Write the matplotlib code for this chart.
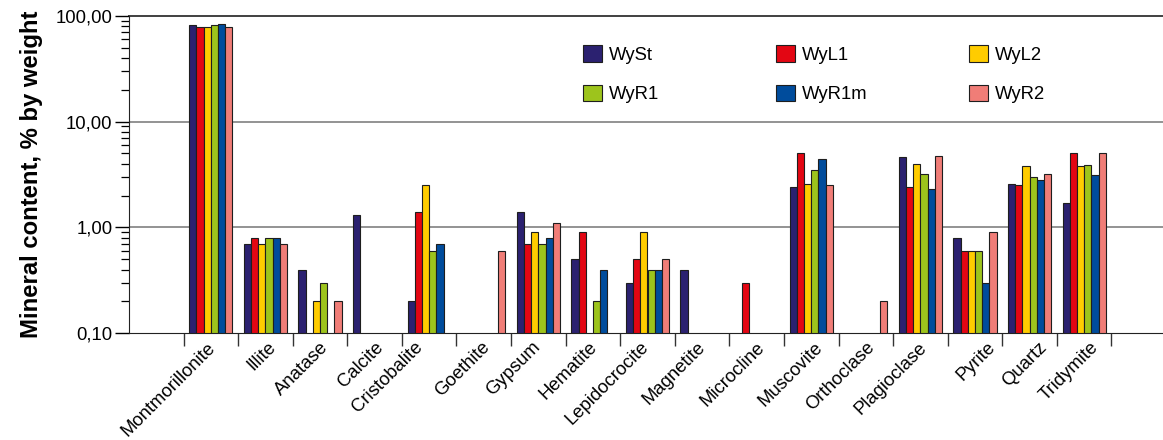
import numpy as np
import matplotlib.pyplot as plt
from matplotlib.ticker import FixedLocator, NullFormatter, LogLocator
from matplotlib.transforms import ScaledTranslation

nan = np.nan

minerals = ['Montmorillonite', 'Illite', 'Anatase', 'Calcite', 'Cristobalite',
            'Goethite', 'Gypsum', 'Hematite', 'Lepidocrocite', 'Magnetite',
            'Microcline', 'Muscovite', 'Orthoclase', 'Plagioclase', 'Pyrite',
            'Quartz', 'Tridymite']

samples = ['WySt', 'WyL1', 'WyL2', 'WyR1', 'WyR1m', 'WyR2']
colors = ['#2b2170', '#e30613', '#ffcc00', '#9dc41c', '#004c9c', '#f07d77']

WySt  = [81, 0.7, 0.4, 1.3, 0.2, nan, 1.4, 0.5, 0.3, 0.4, nan, 2.4, nan, 4.6, 0.8, 2.6, 1.7]
WyL1  = [78, 0.8, nan, nan, 1.4, nan, 0.7, 0.9, 0.5, nan, 0.3, 5.0, nan, 2.4, 0.6, 2.5, 5.0]
WyL2  = [79, 0.7, 0.2, nan, 2.5, nan, 0.9, nan, 0.9, nan, nan, 2.6, nan, 4.0, 0.6, 3.8, 3.8]
WyR1  = [82, 0.8, 0.3, nan, 0.6, nan, 0.7, 0.2, 0.4, nan, nan, 3.5, nan, 3.2, 0.6, 3.0, 3.9]
WyR1m = [84, 0.8, nan, nan, 0.7, nan, 0.8, 0.4, 0.4, nan, nan, 4.4, nan, 2.3, 0.3, 2.8, 3.1]
WyR2  = [79, 0.7, 0.2, nan, nan, 0.6, 1.1, nan, 0.5, nan, nan, 2.5, 0.2, 4.7, 0.9, 3.2, 5.1]

series = [WySt, WyL1, WyL2, WyR1, WyR1m, WyR2]

ytick_vals = [0.1, 1, 10, 100]
ytick_labels = ['0,10', '1,00', '10,00', '100,00']

plt.rcParams['font.family'] = ['Liberation Sans', 'DejaVu Sans']
plt.rcParams['font.size'] = 13.3

fig = plt.figure(figsize=(11.63, 4.4), dpi=100)
ax = fig.add_axes([129 / 1163, 1 - 333.3 / 440, 1037 / 1163, (333.3 - 15.7) / 440])

n_slots = len(minerals) + 2
centers = np.arange(len(minerals)) + 1.5
w = 0.132
handles = []
for j, (name, vals) in enumerate(zip(samples, series)):
    v = np.array(vals, dtype=float)
    ok = ~np.isnan(v)
    b = ax.bar(centers[ok] + (j - 2.5) * w, v[ok] - 0.1, bottom=0.1, width=w,
               color=colors[j], edgecolor='#1e1e1e', linewidth=0.8, label=name, zorder=3)
    handles.append(b)

ax.set_yscale('log')
ax.set_ylim(0.1, 100)
ax.set_xlim(0, n_slots)

ax.set_yticks(ytick_vals)
ax.set_yticklabels(ytick_labels)
ax.yaxis.set_minor_locator(LogLocator(base=10, subs=np.arange(2, 10)))
ax.yaxis.set_minor_formatter(NullFormatter())
ax.tick_params(axis='y', which='major', direction='out', length=10, width=1, pad=2)
ax.tick_params(axis='y', which='minor', direction='out', length=6, width=0.9)

ax.xaxis.set_major_locator(FixedLocator(np.arange(1, len(minerals) + 2)))
ax.xaxis.set_major_formatter(NullFormatter())
ax.xaxis.set_minor_locator(FixedLocator(centers))
ax.set_xticklabels(minerals, minor=True, rotation=45, ha='right', va='top',
                   rotation_mode='anchor')
ax.tick_params(axis='x', which='major', direction='out', length=9, width=1, color='#333333')
ax.tick_params(axis='x', which='minor', length=0, pad=4)

# the original lays its slanted labels out a little unevenly; nudge them (pixels)
label_dx = [-4, 2, 0, 0, -15, -3, -7, -4, -7, -5, -1, 3, 0, -2, 12, 9, 6]
for lab, dx in zip(ax.get_xticklabels(minor=True), label_dx):
    lab.set_transform(lab.get_transform() + ScaledTranslation(dx / 100, 0, fig.dpi_scale_trans))

for yv in [1, 10]:
    ax.axhline(yv, color='#808080', lw=1.2, zorder=1)
ax.axhline(100, color='#404040', lw=1.4, zorder=1, clip_on=False)

ax.spines['right'].set_visible(False)
ax.spines['top'].set_visible(False)
ax.spines['left'].set_color('#222222')
ax.spines['bottom'].set_color('#222222')

ax.set_ylabel('Mineral content, % by weight', fontsize=17.2, fontweight='bold', labelpad=9)

# legend: one small legend per column so the columns sit where the reference has them
col_x = [583, 776, 969]
for k in range(3):
    leg = fig.legend([handles[k], handles[k + 3]], [samples[k], samples[k + 3]],
                     loc='upper left', bbox_to_anchor=(col_x[k] / 1163, 1 - 45 / 440),
                     frameon=False, handlelength=1.05, handleheight=1.0, handletextpad=0.35,
                     labelspacing=1.15, borderpad=0, borderaxespad=0)

fig.savefig('out.png', dpi=100)
